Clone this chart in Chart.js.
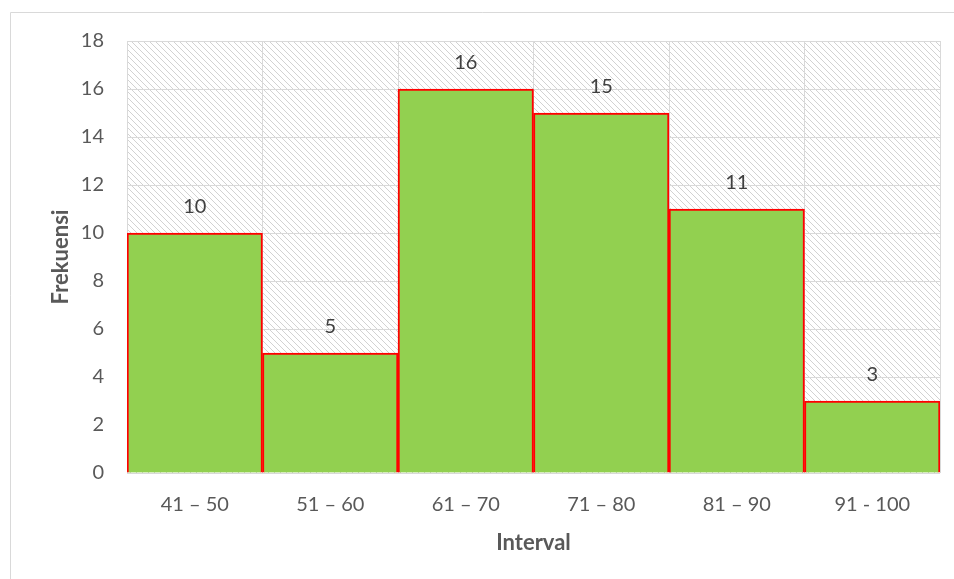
<!DOCTYPE html>
<html>
<head>
<meta charset="utf-8">
<script src="https://cdn.jsdelivr.net/npm/chart.js@4/dist/chart.umd.min.js"></script>
<style>
  html, body { margin: 0; padding: 0; background: #ffffff; }
  #wrap { width: 954px; height: 579px; position: relative; }
</style>
</head>
<body>
<div id="wrap"><canvas id="chart" width="954" height="579"></canvas></div>
<script>
// Frequency distribution of scores per interval
const intervals = ['41 – 50', '51 – 60', '61 – 70', '71 – 80', '81 – 90', '91 - 100'];
const frekuensi = [10, 5, 16, 15, 11, 3];
const yTicks = { min: 0, max: 18, step: 2 };

const FONT = 'Lato, "Open Sans", sans-serif';
const GRID = '#d9d9d9';

// diagonal hatch used behind the bars
function makeHatch(ctx) {
  const c = document.createElement('canvas');
  c.width = 6; c.height = 6;
  const g = c.getContext('2d');
  g.fillStyle = '#ffffff';
  g.fillRect(0, 0, 6, 6);
  g.fillStyle = '#d2d2d2';
  for (let i = 0; i < 6; i++) g.fillRect(i, i, 1, 1);
  return ctx.createPattern(c, 'repeat');
}

const hatchPlugin = {
  id: 'hatchBackground',
  beforeDraw(chart) {
    const { ctx, chartArea: a } = chart;
    ctx.save();
    // outer frame of the chart object
    ctx.strokeStyle = GRID;
    ctx.lineWidth = 1;
    ctx.beginPath();
    ctx.moveTo(10.5, chart.height);
    ctx.lineTo(10.5, 12.5);
    ctx.lineTo(chart.width, 12.5);
    ctx.stroke();
    ctx.fillStyle = makeHatch(ctx);
    ctx.fillRect(a.left, a.top, a.right - a.left, a.bottom - a.top);
    ctx.restore();
  }
};

const valueLabels = {
  id: 'valueLabels',
  afterDatasetsDraw(chart) {
    const { ctx } = chart;
    const meta = chart.getDatasetMeta(0);
    ctx.save();
    ctx.font = '20px ' + FONT;
    ctx.fillStyle = '#404040';
    ctx.textAlign = 'center';
    ctx.textBaseline = 'middle';
    meta.data.forEach((bar, i) => {
      ctx.fillText(String(frekuensi[i]), bar.x, bar.y - 26);
    });
    ctx.restore();
  }
};

new Chart(document.getElementById('chart'), {
  type: 'bar',
  data: {
    labels: intervals,
    datasets: [{
      data: frekuensi,
      backgroundColor: '#92d050',
      borderColor: '#ff0000',
      borderWidth: 2,
      barPercentage: 1,
      categoryPercentage: 1
    }]
  },
  options: {
    responsive: false,
    animation: false,
    devicePixelRatio: 1,
    layout: { padding: { left: 45, right: 14, top: 41, bottom: 20 } },
    plugins: { legend: { display: false }, tooltip: { enabled: false } },
    scales: {
      x: {
        grid: { color: GRID, lineWidth: 1, drawTicks: false, offset: true },
        border: { display: false },
        ticks: { color: '#595959', font: { family: FONT, size: 20 }, padding: 20, maxRotation: 0 },
        title: { display: true, text: 'Interval', color: '#595959', font: { family: FONT, size: 22, weight: 'bold' }, padding: { top: 0, bottom: 3 } },
        afterFit(scale) { scale.height = 86; }
      },
      y: {
        min: yTicks.min,
        max: yTicks.max,
        grid: { color: GRID, lineWidth: 1, drawTicks: false },
        border: { display: false },
        ticks: { stepSize: yTicks.step, color: '#595959', font: { family: FONT, size: 20 }, padding: 23 },
        title: { display: true, text: 'Frekuensi', color: '#595959', font: { family: FONT, size: 22, weight: 'bold' }, padding: { top: 3, bottom: 0 } },
        afterFit(scale) { scale.width = 82; }
      }
    }
  },
  plugins: [hatchPlugin, valueLabels]
});
</script>
</body>
</html>
